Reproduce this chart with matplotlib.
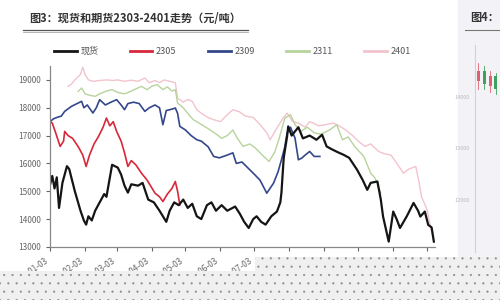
import datetime as dt

import matplotlib.dates as mdates
import matplotlib.pyplot as plt
from matplotlib.lines import Line2D
from matplotlib.patches import Rectangle

plt.rcParams['font.family'] = ['Noto Sans CJK SC', 'DejaVu Sans']
plt.rcParams['hatch.linewidth'] = 0.3

# days after 2023-01-03, values in yuan/ton
base_day = dt.date(2023, 1, 3)

spot_day = [0, 2, 4, 6, 8, 11, 15, 17, 22, 27, 30, 32, 34, 37, 40, 44, 48, 50, 55, 60,
            63, 66, 69, 72, 78, 82, 87, 92, 97, 103, 106, 110, 114, 118, 122, 126, 130,
            134, 139, 143, 147, 152, 157, 164, 168, 172, 176, 180, 183, 187, 191, 196,
            201, 204, 205, 207, 210, 211, 214, 217, 220, 224, 230, 236, 241, 245, 250,
            255, 260, 265, 272, 277, 281, 284, 290, 293, 295, 300, 304, 307, 310, 316,
            322, 326, 328, 332, 335, 338, 340]
spot_val = [15230, 15550, 15100, 15500, 14400, 15300, 15900, 15800, 15000, 14300, 13950,
            13800, 14100, 13950, 14300, 14600, 14900, 14800, 15950, 15850, 15600, 15200,
            14950, 15250, 15200, 15300, 14700, 14600, 14300, 13900, 14300, 14600, 14500,
            14700, 14400, 14550, 14100, 14000, 14500, 14600, 14300, 14500, 14300, 14450,
            14200, 13900, 13680, 14000, 14100, 13900, 13800, 14100, 14270, 14600, 14950,
            16200, 16970, 17330, 17000, 17150, 17300, 16900, 17000, 16850, 17030, 16610,
            16500, 16400, 16310, 16200, 15770, 15400, 15050, 15300, 15350, 14700, 14090,
            13190, 14270, 14000, 13680, 14100, 14580, 14300, 14090, 14270, 13790, 13700,
            13190]

c2305_day = [0, 2, 5, 9, 12, 13, 16, 20, 25, 29, 32, 35, 39, 43, 47, 50, 53, 56, 59, 63,
             66, 69, 72, 76, 81, 86, 93, 97, 100, 104, 108, 111, 113, 115]
c2305_val = [17500, 17450, 17100, 16610, 16800, 17150, 17000, 16900, 16600, 16300, 15890,
             16300, 16700, 16970, 17300, 17630, 17350, 17500, 17150, 16800, 16380, 15890,
             16100, 15950, 15650, 15400, 14930, 14800, 14630, 14900, 15100, 15350, 15000,
             14510]

c2309_day = [0, 3, 6, 10, 13, 19, 24, 28, 30, 33, 38, 41, 44, 49, 54, 59, 63, 66, 69, 74,
             79, 84, 88, 93, 97, 100, 103, 108, 111, 113, 115, 120, 125, 130, 134, 140,
             145, 150, 157, 162, 165, 170, 175, 180, 186, 192, 198, 202, 205, 208, 210,
             213, 217, 220, 223, 226, 230, 234, 239]
c2309_val = [17500, 17600, 17650, 17700, 17870, 18050, 18150, 18230, 18000, 18100, 17810,
             18000, 18290, 18100, 18200, 18290, 18100, 17930, 18150, 18200, 18150, 17870,
             18000, 18100, 18000, 17390, 17900, 17950, 17990, 17800, 17330, 17200, 17000,
             16850, 16800, 16600, 16250, 16200, 16300, 16380, 16000, 16050, 15850, 15650,
             15400, 14930, 15290, 15700, 16130, 16600, 17100, 17300, 16910, 16130, 16190,
             16300, 16430, 16250, 16250]

c2311_day = [25, 28, 31, 35, 40, 44, 50, 55, 60, 66, 72, 81, 86, 90, 95, 100, 104, 108,
             111, 113, 118, 124, 127, 130, 134, 140, 148, 152, 157, 162, 166, 171, 177,
             182, 188, 194, 199, 203, 208, 213, 217, 222, 228, 234, 240, 248, 254, 259,
             264, 270, 278, 284, 288, 293]
c2311_val = [18590, 18710, 18500, 18450, 18410, 18500, 18600, 18650, 18550, 18500, 18600,
             18770, 18650, 18770, 18830, 18650, 18750, 18600, 18650, 18170, 18000, 17700,
             17570, 17500, 17400, 17250, 17030, 16900, 17000, 17200, 16900, 16610, 16700,
             16550, 16300, 16070, 16400, 16900, 17630, 17750, 17400, 17150, 17300, 17100,
             17050, 17210, 17390, 16850, 16950, 16600, 16250, 15650, 15470, 14930]

c2401_day = [16, 19, 22, 27, 29, 31, 34, 38, 44, 50, 56, 60, 66, 72, 78, 84, 88, 93, 97,
             101, 106, 111, 113, 118, 122, 126, 130, 134, 140, 145, 151, 157, 162, 168,
             173, 180, 186, 192, 195, 200, 206, 210, 215, 220, 226, 230, 233, 238, 245,
             251, 256, 262, 268, 273, 279, 284, 291, 296, 302, 307, 313, 318, 324, 327,
             329, 334, 337, 340]
c2401_val = [18770, 18850, 19000, 19200, 19460, 19200, 19000, 18950, 18980, 19000, 18980,
             19000, 18950, 18990, 18950, 19070, 18900, 18980, 18900, 19000, 18950, 18900,
             18350, 18200, 18300, 18230, 17930, 17800, 17650, 17570, 17500, 17750, 17930,
             17850, 17700, 17650, 17400, 17100, 16850, 17200, 17600, 17810, 17500, 17450,
             17300, 17500, 17450, 17350, 17400, 17450, 17350, 17200, 17000, 16800, 16610,
             16700, 16430, 16350, 16300, 16010, 15650, 15800, 15890, 15290, 14810, 14330,
             13730, 13190]

series = [
    ('现货', spot_day, spot_val, '#151515', 1.6),
    ('2305', c2305_day, c2305_val, '#d7283a', 1.2),
    ('2309', c2309_day, c2309_val, '#34478a', 1.2),
    ('2311', c2311_day, c2311_val, '#b7d39c', 1.0),
    ('2401', c2401_day, c2401_val, '#f2c4cc', 1.0),
]

# small side panel (next chart, cut off on the right)
side_open = [14300, 14500, 14200, 14400, 14100]
side_close = [14500, 14250, 14400, 14150, 14000]
side_high = [14650, 14600, 14500, 14450, 14300]
side_low = [14150, 14150, 14100, 14050, 13900]


def to_dates(days):
    return [base_day + dt.timedelta(days=d) for d in days]


fig = plt.figure(figsize=(5, 3), dpi=100)
fig.patch.set_facecolor('white')

ax = fig.add_axes([0.1, 0.177, 0.77, 0.603])
for name, days, vals, color, lw in series[::-1]:
    ax.plot(to_dates(days), vals, color=color, lw=lw, label=name)

ax.set_ylim(13000, 19500)
ax.set_yticks(range(13000, 19001, 1000))
ax.set_xlim(dt.date(2023, 1, 3), dt.date(2023, 12, 10))
ax.set_xticks([dt.date(2023, m, 3) for m in range(1, 13)])
ax.xaxis.set_major_formatter(mdates.DateFormatter('%y-%m-%d'))
for lab in ax.get_xticklabels():
    lab.set_rotation(35)
    lab.set_ha('right')
ax.tick_params(axis='both', labelsize=6, colors='#666666', length=3, width=0.8)
for side in ['top', 'right']:
    ax.spines[side].set_visible(False)
for side in ['left', 'bottom']:
    ax.spines[side].set_color('#888888')
    ax.spines[side].set_linewidth(0.9)

handles = [Line2D([], [], color=s[3], lw=2) for s in series]
fig.legend(handles, [s[0] for s in series], ncol=5, frameon=False, fontsize=6.5,
           loc='center left', bbox_to_anchor=(0.092, 0.83), handlelength=2.5,
           columnspacing=3.5, handletextpad=0.4, labelcolor='#555555')

fig.text(0.058, 0.94, '图3：现货和期货2303-2401走势（元/吨）', fontsize=8,
         color='#333333', va='center', weight='semibold')
fig.add_artist(Line2D([0.045, 0.495], [0.9, 0.9], color='#555555', lw=0.9))
fig.add_artist(Line2D([0.045, 0.495], [0.892, 0.892], color='#999999', lw=0.5))

# side panel
fig.add_artist(Rectangle((0.916, 0.14), 0.084, 0.86, color='#f3f3f7', zorder=0))
fig.text(0.94, 0.94, '图4：', fontsize=8, color='#333333', va='center', weight='semibold')
fig.add_artist(Line2D([0.93, 1.0], [0.9, 0.9], color='#777777', lw=0.8))
ax2 = fig.add_axes([0.95, 0.16, 0.1, 0.69])
ax2.set_facecolor('none')
for i in range(len(side_open)):
    col = '#e06070' if side_close[i] >= side_open[i] else '#40a060'
    ax2.plot([i, i], [side_low[i], side_high[i]], color=col, lw=0.6)
    ax2.bar(i, abs(side_close[i] - side_open[i]), bottom=min(side_open[i], side_close[i]),
            width=0.5, color=col)
ax2.set_xlim(-0.6, 8)
ax2.set_ylim(11000, 15000)
ax2.set_yticks([12000, 13000, 14000])
ax2.tick_params(labelsize=4, colors='#bbbbbb', length=0)
ax2.set_xticks([])
for side in ['top', 'right', 'bottom']:
    ax2.spines[side].set_visible(False)
ax2.spines['left'].set_color('#d0d0d8')

# dotted band covering the bottom of the screenshot
fig.add_artist(Rectangle((0, 0), 0.51, 0.097, facecolor='#f0f0f0', edgecolor='#8a8a8a',
                         hatch='..', lw=0, zorder=10))
fig.add_artist(Rectangle((0.51, 0), 0.49, 0.143, facecolor='#f0f0f0', edgecolor='#8a8a8a',
                         hatch='..', lw=0, zorder=10))

fig.savefig('out.png', dpi=100)
